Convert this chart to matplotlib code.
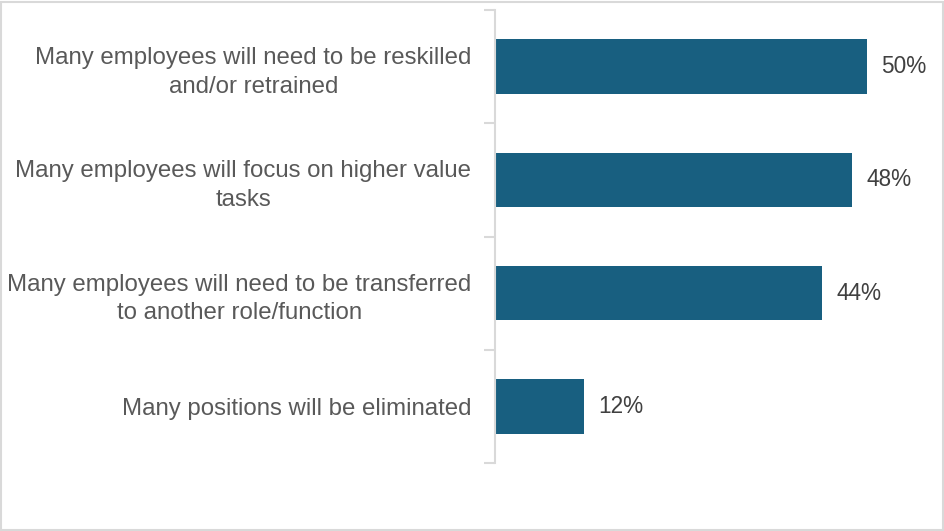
import matplotlib.pyplot as plt
from matplotlib.patches import Rectangle

categories = [
    'Many employees will need to be reskilled\nand/or retrained',
    'Many employees will focus on higher value\ntasks',
    'Many employees will need to be transferred\nto another role/function',
    'Many positions will be eliminated',
]
values = [50, 48, 44, 12]

plt.rcParams['font.family'] = ['Liberation Sans', 'DejaVu Sans']

fig = plt.figure(figsize=(9.45, 5.31), dpi=100)
ax = fig.add_axes([495 / 945, 1 - 463 / 531, (930 - 495) / 945, 453 / 531])

y = list(range(len(categories)))
ax.barh(y, values, height=0.48, color='#185f80')
ax.set_ylim(len(categories) - 0.5, -0.5)
ax.set_xlim(0, 58.5)

for yi, v in zip(y, values):
    ax.text(v + 1.9, yi, f'{v}%', va='center', ha='left', fontsize=16.3, color='#404040')

ax.set_yticks([i - 0.5 for i in range(len(categories) + 1)])
ax.set_yticklabels([])
ax.set_yticks(y, minor=True)
ax.set_yticklabels(categories, minor=True, fontsize=17.3, color='#595959',
                   multialignment='center', linespacing=1.4)
ax.tick_params(axis='y', which='major', length=8, width=1.5, color='#d9d9d9', direction='out')
ax.tick_params(axis='y', which='minor', length=0, pad=17)
ax.set_xticks([])

for s in ['top', 'right', 'bottom']:
    ax.spines[s].set_visible(False)
ax.spines['left'].set_color('#d9d9d9')
ax.spines['left'].set_linewidth(1.5)

fig.patches.append(Rectangle((0.001, 0.002), 0.997, 0.995, transform=fig.transFigure,
                             fill=False, edgecolor='#d9d9d9', linewidth=1.5))

fig.savefig('out.png', dpi=100)
